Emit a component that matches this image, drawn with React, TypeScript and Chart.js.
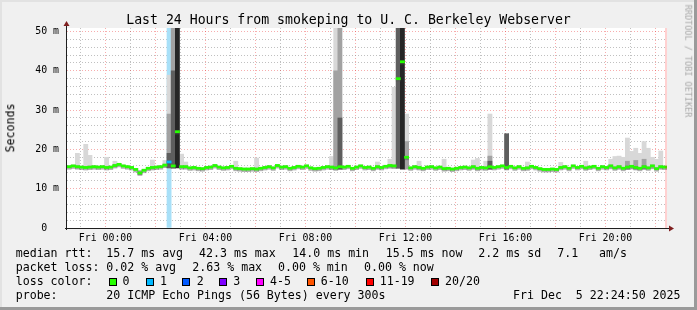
import React, { useEffect, useRef } from 'react';
import { Chart, registerables } from 'chart.js';

Chart.register(...registerables);

// x axis: hours relative to Fri 00:00
const timeStart = -1.54;
const timeEnd = 22.46;
const slotHours = 1 / 6; // 10 minute slots
const nowHours = 22.414;
const yMax = 50.9;

// median RTT per 10-minute slot (ms)
const medianRtt = [
  15.6, 15.8, 15.6, 15.5, 15.4, 15.5, 15.6, 15.5, 15.6, 15.4, 15.5, 15.9,
  16.2, 15.8, 15.6, 15.4, 14.9, 14.0, 14.7, 15.2, 15.4, 15.5, 15.6, 16.0,
  16.8, 15.8, 24.5, 15.6, 15.6, 15.3, 15.4, 15.2, 15.1, 15.4, 15.5, 15.9,
  15.5, 15.3, 15.4, 15.7, 15.2, 15.1, 15.0, 15.0, 15.1, 15.0, 15.2, 15.4,
  15.6, 15.3, 15.9, 15.5, 15.6, 15.2, 15.4, 15.7, 15.5, 15.8, 15.3, 15.1,
  15.2, 15.4, 15.6, 15.5, 15.3, 15.6, 15.5, 15.7, 15.2, 15.5, 15.8, 15.4,
  15.5, 15.2, 15.6, 15.4, 15.7, 15.9, 15.8, 38.0, 42.3, 18.0, 15.3, 15.6,
  15.4, 15.2, 15.5, 15.6, 15.3, 15.5, 15.1, 15.2, 15.0, 15.2, 15.4, 15.5,
  15.3, 15.6, 15.2, 15.4, 15.3, 15.6, 15.4, 15.6, 15.8, 15.4, 15.7, 15.3,
  15.6, 15.2, 15.3, 15.7, 15.4, 15.1, 14.9, 14.9, 15.0, 14.9, 15.4, 15.6,
  15.2, 15.8, 15.4, 15.7, 15.3, 15.5, 15.7, 15.2, 15.6, 15.4, 15.8, 15.3,
  15.6, 15.2, 15.5, 15.7, 15.4, 15.2, 15.6, 15.3, 15.8, 15.1, 15.6, 15.5,
];

// packet loss (pings lost of 20) per slot
const lossSlots = [24];
const lossPings = [1];

// smoke: [slot, low ms, high ms]
const smokeLight = [
  [2, 15.2, 19.0], [4, 15.3, 21.3], [5, 15.3, 18.5], [9, 15.2, 18.0], [11, 15.5, 17.0],
  [20, 15.0, 17.3], [23, 15.5, 17.2], [24, 15.3, 38.9], [25, 15.3, 51], [27, 15.2, 18.8],
  [28, 15.2, 16.8], [40, 15.0, 17.0], [45, 14.8, 17.8], [63, 15.0, 18.2], [64, 15.0, 51],
  [74, 15.0, 16.8], [77, 15.2, 17.5], [78, 15.2, 35.8], [79, 15.2, 51], [81, 15.0, 29.0],
  [84, 15.0, 17.0], [90, 14.8, 17.5], [97, 15.0, 17.3], [98, 15.0, 17.7], [100, 15.0, 17.0],
  [101, 15.0, 29.0], [110, 15.0, 16.8], [118, 15.0, 16.7], [124, 15.0, 17.0], [130, 15.0, 17.5],
  [131, 15.0, 18.2], [132, 15.0, 18.3], [133, 15.0, 18.0], [134, 15.0, 22.9], [135, 15.0, 19.5],
  [136, 15.0, 20.3], [137, 15.0, 19.0], [138, 15.0, 22.0], [139, 15.0, 20.3], [140, 15.0, 18.0],
  [141, 15.0, 17.5], [142, 15.0, 19.6],
];
const smokeMid = [
  [17, 13.6, 14.6], [24, 15.3, 29.0], [25, 15.3, 51], [64, 15.0, 40.0], [65, 15.0, 51],
  [79, 15.2, 51], [81, 15.0, 22.0], [101, 15.0, 18.3], [134, 15.0, 17.0], [136, 15.0, 17.2],
  [138, 15.0, 17.5],
];
const smokeDark = [
  [24, 15.3, 19.0], [25, 15.3, 40.0], [65, 15.0, 28.0], [79, 15.2, 51], [101, 15.0, 17.0],
  [105, 15.0, 24.0],
];
const smokeBlack = [
  [26, 15.3, 51], [80, 15.0, 51],
];

// axis ticks
const xTickHours = [0, 4, 8, 12, 16, 20];
const xTickLabels = ['Fri 00:00', 'Fri 04:00', 'Fri 08:00', 'Fri 12:00', 'Fri 16:00', 'Fri 20:00'];
const yTickValues = [0, 10, 20, 30, 40, 50];
const yTickLabels = ['0  ', '10 m', '20 m', '30 m', '40 m', '50 m'];

// legend
const lossLabels = ['0', '1', '2', '3', '4-5', '6-10', '11-19', '20/20'];
const lossColors = ['#26ff00', '#00b8ff', '#0059ff', '#7e00ff', '#ff00ff', '#ff5500', '#ff0000', '#a10000'];
const lossBgColor = '#a8e0f8';

// drawing thickness of the median band (ms half-height)
const medianHalf = 0.27;

const MONO = '"DejaVu Sans Mono", monospace';
const slotCenter = (i: number) => timeStart + (i + 0.5) * slotHours;

const lossOfSlot = (i: number) => {
  const k = lossSlots.indexOf(i);
  return k < 0 ? 0 : lossPings[k];
};

const decorPlugin = {
  id: 'rrdDecor',
  beforeDraw(chart: any) {
    const { ctx, chartArea: a } = chart;
    ctx.save();
    ctx.fillStyle = '#ffffff';
    ctx.fillRect(a.left, a.top, a.right - a.left, a.bottom - a.top);
    ctx.restore();
  },
  afterDatasetsDraw(chart: any) {
    const { ctx, chartArea: a, scales } = chart;
    ctx.save();
    // now marker
    const xn = Math.round(scales.x.getPixelForValue(nowHours));
    ctx.strokeStyle = 'rgba(255,0,0,0.18)';
    ctx.lineWidth = 2;
    ctx.beginPath();
    ctx.moveTo(xn, a.top);
    ctx.lineTo(xn, a.bottom);
    ctx.stroke();
    // axes
    ctx.strokeStyle = '#1f1f1f';
    ctx.lineWidth = 1;
    ctx.beginPath();
    ctx.moveTo(a.left - 2, a.bottom + 0.5);
    ctx.lineTo(a.right + 2, a.bottom + 0.5);
    ctx.moveTo(a.left - 0.5, a.bottom + 2);
    ctx.lineTo(a.left - 0.5, a.top - 3);
    ctx.stroke();
    // arrows
    ctx.fillStyle = '#7f1f1f';
    ctx.beginPath();
    ctx.moveTo(a.left - 0.5, a.top - 7);
    ctx.lineTo(a.left - 3.5, a.top - 2);
    ctx.lineTo(a.left + 2.5, a.top - 2);
    ctx.closePath();
    ctx.fill();
    ctx.beginPath();
    ctx.moveTo(a.right + 7, a.bottom + 0.5);
    ctx.lineTo(a.right + 2, a.bottom - 2.5);
    ctx.lineTo(a.right + 2, a.bottom + 3.5);
    ctx.closePath();
    ctx.fill();
    ctx.restore();
  },
};

function barSet(rows: number[][], color: any, order: number) {
  return {
    type: 'bar' as const,
    data: rows.map(([s, lo, hi]) => ({ x: slotCenter(s), y: [lo, hi] })),
    backgroundColor: color,
    borderWidth: 0,
    grouped: false,
    categoryPercentage: 1,
    barPercentage: 1,
    order,
  };
}

export default function App() {
  const canvasRef = useRef<HTMLCanvasElement | null>(null);

  useEffect(() => {
    if (!canvasRef.current) return;
    const medianBand = medianRtt.map((v, i) => [i, v - medianHalf, v + medianHalf]);
    const medianShadow = medianRtt.map((v, i) => [i, v - 2.4 * medianHalf, v + 0.9 * medianHalf]);
    const lossRows = lossSlots.map((s) => [s, 0, yMax]);
    const chart = new Chart(canvasRef.current, {
      type: 'bar',
      data: {
        datasets: [
          barSet(
            medianBand,
            (ctx: any) => {
              const l = lossOfSlot(ctx.dataIndex);
              return l > 0 ? lossColors[Math.min(l, 7)] : lossColors[0];
            },
            0,
          ),
          barSet(medianShadow, 'rgba(80,80,80,0.45)', 1),
          barSet(smokeBlack, '#262626', 2),
          barSet(smokeDark, '#5e5e5e', 3),
          barSet(smokeMid, '#a2a2a2', 4),
          barSet(smokeLight, '#d8d8d8', 5),
          barSet(lossRows, lossBgColor, 6),
        ] as any,
      },
      options: {
        animation: false,
        responsive: false,
        devicePixelRatio: 1,
        events: [],
        layout: { padding: { left: 0, top: 28, right: 30, bottom: 0 } },
        plugins: { legend: { display: false }, tooltip: { enabled: false }, title: { display: false } },
        scales: {
          x: {
            type: 'linear',
            min: timeStart,
            max: timeEnd,
            offset: false,
            afterFit: (s: any) => { s.height = 82; },
            afterBuildTicks: (s: any) => {
              const t = [];
              for (let h = -1; h <= 22; h++) t.push({ value: h });
              s.ticks = t;
            },
            grid: {
              offset: false,
              drawTicks: false,
              color: (c: any) => (c.tick && ((c.tick.value % 2) + 2) % 2 === 0 ? 'rgba(230,0,0,0.32)' : 'rgba(140,140,140,0.55)'),
              lineWidth: 1,
            },
            border: { display: false, dash: [1, 2] },
            ticks: {
              autoSkip: false,
              maxRotation: 0,
              padding: 4,
              color: '#000',
              font: { family: MONO, size: 9.9 },
              callback: (v: any) => {
                const k = xTickHours.indexOf(Number(v));
                return k < 0 ? '' : xTickLabels[k];
              },
            },
          },
          y: {
            type: 'linear',
            min: 0,
            max: yMax,
            afterFit: (s: any) => { s.width = 67; },
            afterBuildTicks: (s: any) => {
              const t = [];
              for (let v = 0; v <= 50; v += 2) t.push({ value: v });
              s.ticks = t;
            },
            grid: {
              drawTicks: false,
              color: (c: any) => (c.tick && c.tick.value % 10 === 0 ? 'rgba(230,0,0,0.32)' : 'rgba(140,140,140,0.55)'),
              lineWidth: 1,
            },
            border: { display: false, dash: [1, 2] },
            ticks: {
              autoSkip: false,
              padding: 8,
              color: '#000',
              font: { family: MONO, size: 9.9 },
              callback: (v: any) => {
                const k = yTickValues.indexOf(Number(v));
                return k < 0 ? '' : yTickLabels[k];
              },
            },
          },
        },
      } as any,
      plugins: [decorPlugin],
    });
    return () => chart.destroy();
  }, []);

  const legendSize = 11.6;
  const txt = (x: number, baseline: number, s: string, size = legendSize) => (
    <div
      key={`${x}-${baseline}-${s}`}
      style={{
        position: 'absolute',
        left: x,
        top: baseline - 0.846 * size,
        fontFamily: MONO,
        fontSize: size,
        lineHeight: `${size}px`,
        whiteSpace: 'pre',
        color: '#000',
      }}
    >
      {s}
    </div>
  );

  const boxX = [108.5, 145.5, 182, 219, 256, 307, 365.5, 430.5];
  const boxLabelX = [122.5, 160, 196.7, 233.3, 270, 320.7, 379.7, 445];

  return (
    <div
      style={{
        position: 'fixed',
        left: 0,
        top: 0,
        width: 697,
        height: 310,
        background: '#f0f0f0',
        overflow: 'hidden',
      }}
    >
      <div style={{ position: 'absolute', left: 0, top: 0, width: 697, height: 2, background: '#e2e2e2' }} />
      <div style={{ position: 'absolute', left: 0, top: 0, width: 2, height: 310, background: '#e2e2e2' }} />
      <div style={{ position: 'absolute', left: 0, top: 307, width: 697, height: 3, background: '#9a9a9a' }} />
      <div style={{ position: 'absolute', left: 694, top: 0, width: 3, height: 310, background: '#9a9a9a' }} />
      <canvas
        ref={canvasRef}
        width={697}
        height={310}
        style={{ position: 'absolute', left: 0, top: 0, width: 697, height: 310 }}
      />
      <div
        style={{
          position: 'absolute',
          left: 0,
          top: 24 - 0.846 * 13.2,
          width: 697,
          textAlign: 'center',
          fontFamily: MONO,
          fontSize: 13.2,
          lineHeight: '13.2px',
          whiteSpace: 'pre',
          color: '#000',
        }}
      >
        Last 24 Hours from smokeping to U. C. Berkeley Webserver
      </div>
      <div
        style={{
          position: 'absolute',
          left: 10.7,
          top: 128,
          transform: 'translate(-50%, -50%) rotate(-90deg)',
          fontFamily: MONO,
          fontSize: 11.6,
          lineHeight: '11.6px',
          whiteSpace: 'pre',
          color: '#000',
        }}
      >
        Seconds
      </div>
      <div
        style={{
          position: 'absolute',
          left: 687.5,
          top: 61,
          transform: 'translate(-50%, -50%) rotate(90deg)',
          fontFamily: MONO,
          fontSize: 8.5,
          lineHeight: '8.5px',
          whiteSpace: 'pre',
          color: '#a8a8a8',
        }}
      >
        RRDTOOL / TOBI OETIKER
      </div>

      {txt(15.7, 257.5, 'median rtt:')}
      {txt(106.3, 257.5, '15.7 ms avg')}
      {txt(199, 257.5, '42.3 ms max')}
      {txt(292.3, 257.5, '14.0 ms min')}
      {txt(385.7, 257.5, '15.5 ms now')}
      {txt(478.3, 257.5, '2.2 ms sd')}
      {txt(557.3, 257.5, '7.1')}
      {txt(599, 257.5, 'am/s')}

      {txt(15.7, 271.5, 'packet loss:')}
      {txt(106.3, 271.5, '0.02 % avg')}
      {txt(192.3, 271.5, '2.63 % max')}
      {txt(278, 271.5, '0.00 % min')}
      {txt(364, 271.5, '0.00 % now')}

      {txt(15.7, 285.5, 'loss color:')}
      {lossLabels.map((l, i) => (
        <React.Fragment key={l}>
          <div
            style={{
              position: 'absolute',
              left: boxX[i],
              top: 278,
              width: 8,
              height: 8,
              boxSizing: 'border-box',
              border: '1px solid #000',
              background: lossColors[i],
            }}
          />
          {txt(boxLabelX[i], 285.5, l)}
        </React.Fragment>
      ))}

      {txt(15.7, 299.5, 'probe:')}
      {txt(106.3, 299.5, '20 ICMP Echo Pings (56 Bytes) every 300s')}
      {txt(513, 299.5, 'Fri Dec  5 22:24:50 2025')}
    </div>
  );
}
